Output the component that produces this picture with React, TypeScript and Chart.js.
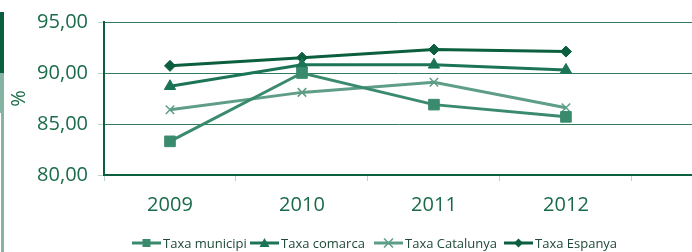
import React, { useEffect, useRef } from 'react';
import { Chart, registerables } from 'chart.js';

Chart.register(...registerables);

const years = ['2009', '2010', '2011', '2012'];
const taxaMunicipi = [83.3, 90.0, 86.9, 85.7];
const taxaComarca = [88.7, 90.8, 90.8, 90.3];
const taxaCatalunya = [86.4, 88.1, 89.1, 86.6];
const taxaEspanya = [90.7, 91.5, 92.3, 92.1];
const seriesNames = ['Taxa municipi', 'Taxa comarca', 'Taxa Catalunya', 'Taxa Espanya'];
const yMin = 80;
const yMax = 95;
const yStep = 5;

const FONT = '"Open Sans", sans-serif';
const TEXT = '#1a6b4a';
const colors = ['#3a8a6e', '#1c7457', '#5e9d86', '#0b5e3e'];
const shapes = ['rect', 'triangle', 'crossRot', 'rectRot'];
const radii = [7.5, 6.5, 6, 5.5];
const legendStarts = [132, 250, 374, 504];

function drawMarker(ctx: CanvasRenderingContext2D, shape: string, x: number, y: number, r: number, color: string) {
  ctx.save();
  ctx.fillStyle = color;
  ctx.strokeStyle = color;
  ctx.beginPath();
  if (shape === 'rect') {
    ctx.rect(x - r, y - r, 2 * r, 2 * r);
    ctx.fill();
  } else if (shape === 'triangle') {
    ctx.moveTo(x, y - r);
    ctx.lineTo(x + r, y + r * 0.8);
    ctx.lineTo(x - r, y + r * 0.8);
    ctx.closePath();
    ctx.fill();
  } else if (shape === 'crossRot') {
    ctx.lineWidth = 1.5;
    ctx.moveTo(x - r, y - r);
    ctx.lineTo(x + r, y + r);
    ctx.moveTo(x + r, y - r);
    ctx.lineTo(x - r, y + r);
    ctx.stroke();
  } else {
    ctx.moveTo(x - r, y);
    ctx.lineTo(x, y - r);
    ctx.lineTo(x + r, y);
    ctx.lineTo(x, y + r);
    ctx.closePath();
    ctx.fill();
  }
  ctx.restore();
}

const decoPlugin = {
  id: 'deco',
  beforeDraw(chart: any) {
    const ctx = chart.ctx;
    ctx.save();
    ctx.fillStyle = '#0b5e3e';
    ctx.fillRect(0, 12, 4, 61);
    ctx.fillStyle = '#86b3a2';
    ctx.fillRect(0, 73, 4, 40);
    ctx.fillRect(1, 113, 3, 139);
    ctx.restore();
  },
  afterDraw(chart: any) {
    const ctx = chart.ctx;
    const y = 243;
    ctx.save();
    chart.data.datasets.forEach((ds: any, i: number) => {
      const x0 = legendStarts[i];
      ctx.strokeStyle = colors[i];
      ctx.lineWidth = 3;
      ctx.beginPath();
      ctx.moveTo(x0, y);
      ctx.lineTo(x0 + 29, y);
      ctx.stroke();
      const legR = [4, 5, 4.5, 4.5][i];
      drawMarker(ctx, shapes[i], x0 + 14.5, y, legR, colors[i]);
      ctx.fillStyle = '#1e4a38';
      ctx.font = '13px ' + FONT;
      ctx.textBaseline = 'middle';
      ctx.textAlign = 'left';
      ctx.fillText(ds.label, x0 + 31, y + 1);
    });
    ctx.restore();
  },
};

export default function App() {
  const ref = useRef<HTMLCanvasElement | null>(null);
  useEffect(() => {
    if (!ref.current) return;
    const series = [taxaMunicipi, taxaComarca, taxaCatalunya, taxaEspanya];
    const chart = new Chart(ref.current, {
      type: 'line',
      data: {
        datasets: series.map((vals, i) => ({
          label: seriesNames[i],
          data: vals.map((v, j) => ({ x: j, y: v })),
          borderColor: colors[i],
          backgroundColor: colors[i],
          borderWidth: 3,
          pointStyle: shapes[i] as any,
          pointRadius: radii[i],
          pointBorderWidth: shapes[i] === 'crossRot' ? 1.5 : 1,
          pointBorderColor: colors[i],
          pointBackgroundColor: colors[i],
          tension: 0,
          fill: false,
        })),
      },
      options: {
        responsive: false,
        animation: false,
        layout: { autoPadding: false, padding: { top: 22, left: 0, right: 0, bottom: 0 } },
        plugins: { legend: { display: false }, tooltip: { enabled: false } },
        scales: {
          x: {
            type: 'linear',
            min: -0.5,
            max: 3.955,
            afterBuildTicks: (scale: any) => {
              const t = [];
              for (let v = -0.5; v <= 3.5; v += 0.5) t.push({ value: v });
              scale.ticks = t;
            },
            afterFit: (scale: any) => {
              scale.height = 77;
              scale.paddingLeft = 0;
              scale.paddingRight = 0;
            },
            grid: {
              drawOnChartArea: false,
              tickLength: 6,
              tickColor: (ctx: any) =>
                ctx.tick && Number.isInteger(ctx.tick.value) ? 'rgba(0,0,0,0)' : '#bfd2c9',
            },
            border: { display: true, color: '#0b5e3e', width: 2 },
            ticks: {
              autoSkip: false,
              maxRotation: 0,
              padding: 12,
              color: TEXT,
              font: { family: FONT, size: 20 },
              callback: (v: any) => (Number.isInteger(v) ? years[v] : ''),
            },
          },
          y: {
            min: yMin,
            max: yMax,
            afterFit: (scale: any) => {
              scale.width = 104;
            },
            ticks: {
              stepSize: yStep,
              padding: 10,
              color: TEXT,
              font: { family: FONT, size: 20 },
              callback: (v: any) => Number(v).toFixed(2).replace('.', ','),
            },
            grid: {
              color: '#2e7d5c',
              lineWidth: 1,
              tickLength: 6,
              tickColor: '#bfd2c9',
            },
            border: { display: true, color: '#0b5e3e', width: 2 },
            title: {
              display: true,
              text: '%',
              color: TEXT,
              font: { family: FONT, size: 20 },
              padding: { top: 7, bottom: 0 },
            },
          },
        },
      },
      plugins: [decoPlugin],
    });
    return () => chart.destroy();
  }, []);
  return (
    <div style={{ position: 'absolute', left: 0, top: 0, width: 692, height: 252, overflow: 'hidden', background: '#fff' }}>
      <canvas ref={ref} width={692} height={252} style={{ display: 'block' }} />
    </div>
  );
}
